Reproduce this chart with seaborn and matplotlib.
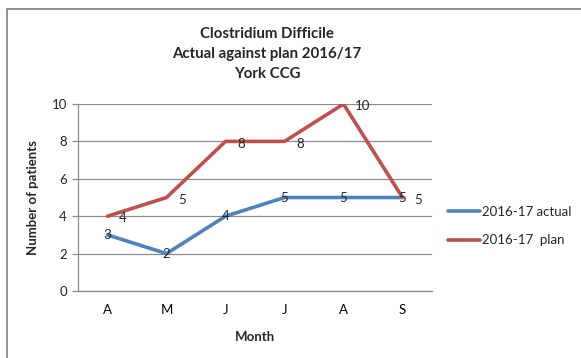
import matplotlib
matplotlib.use("Agg")
import matplotlib.pyplot as plt
from matplotlib.lines import Line2D
import seaborn as sns
import pandas as pd

months = ["A", "M", "J", "J", "A", "S"]
actual = [3, 2, 4, 5, 5, 5]
plan = [4, 5, 8, 8, 10, 5]
series_names = ["2016-17 actual", "2016-17  plan"]
colors = ["#4F81BD", "#C0504D"]

sns.set_style("white")
plt.rcParams["font.family"] = ["Lato", "DejaVu Sans"]

W, H = 581, 358
fig = plt.figure(figsize=(W / 100, H / 100), dpi=100)
# plot area in pixel coordinates
x0, x1, ytop, ybot = 78, 432, 104, 291
ax = fig.add_axes([x0 / W, 1 - ybot / H, (x1 - x0) / W, (ybot - ytop) / H])

pos = list(range(len(months)))
df = pd.DataFrame({
    "pos": pos * 2,
    "value": actual + plan,
    "series": [series_names[0]] * len(months) + [series_names[1]] * len(months),
})
sns.lineplot(data=df, x="pos", y="value", hue="series", palette=colors,
             linewidth=2.6, ax=ax, legend=False, zorder=3)

ax.set_xlim(-0.5, len(months) - 0.5)
ax.set_ylim(0, 10)
ax.set_yticks(range(0, 11, 2))
ax.set_xticks(pos)
ax.set_xticklabels(months)
ax.set_xticks([p - 0.5 for p in range(len(months) + 1)], minor=True)

fs = 9.5
grid_c = "#8c8c8c"
ax.yaxis.grid(True, color=grid_c, linewidth=0.9)
ax.set_axisbelow(True)
for s in ["top", "right"]:
    ax.spines[s].set_visible(False)
for s in ["left", "bottom"]:
    ax.spines[s].set_color(grid_c)
    ax.spines[s].set_linewidth(0.9)

ax.tick_params(axis="x", which="major", length=0, pad=9, labelsize=fs, colors="#000000")
ax.tick_params(axis="x", which="minor", length=4, color=grid_c, width=0.9)
ax.tick_params(axis="y", which="major", length=4, color=grid_c, width=0.9,
               labelsize=fs, pad=4, left=True)

ax.set_xlabel("Month", fontsize=fs, fontweight="bold", labelpad=11)
ax.set_ylabel("Number of patients", fontsize=fs, fontweight="bold", labelpad=9)

# value labels: actual centred on the point, plan to the right of it
for p, v in zip(pos, actual):
    ax.text(p, v, str(v), ha="center", va="center", fontsize=fs, zorder=4)
for p, v in zip(pos, plan):
    ax.text(p + 0.2, v - 0.12, str(v), ha="left", va="center", fontsize=fs, zorder=4)

fig.text(267 / W, 1 - 54 / H, "Clostridium Difficile\nActual against plan 2016/17\nYork CCG",
         ha="center", va="center", fontsize=10.8, fontweight="bold", linespacing=1.5)

handles = [Line2D([], [], color=c, linewidth=2.6) for c in colors]
fig.legend(handles, series_names, loc="upper left",
           bbox_to_anchor=(448 / W, 1 - 206 / H), frameon=False, fontsize=fs,
           handlelength=2.4, handletextpad=0.2, labelspacing=1.25, borderaxespad=0,
           borderpad=0)

# chart frame (top and left edges)
frame_c = "#7f7f7f"
fig.add_artist(Line2D([7 / W, 1], [1 - 9 / H, 1 - 9 / H], color=frame_c, linewidth=1.2,
                      transform=fig.transFigure))
fig.add_artist(Line2D([7 / W, 7 / W], [1 - 9 / H, 0], color=frame_c, linewidth=1.2,
                      transform=fig.transFigure))

fig.savefig("out.png", dpi=100)
